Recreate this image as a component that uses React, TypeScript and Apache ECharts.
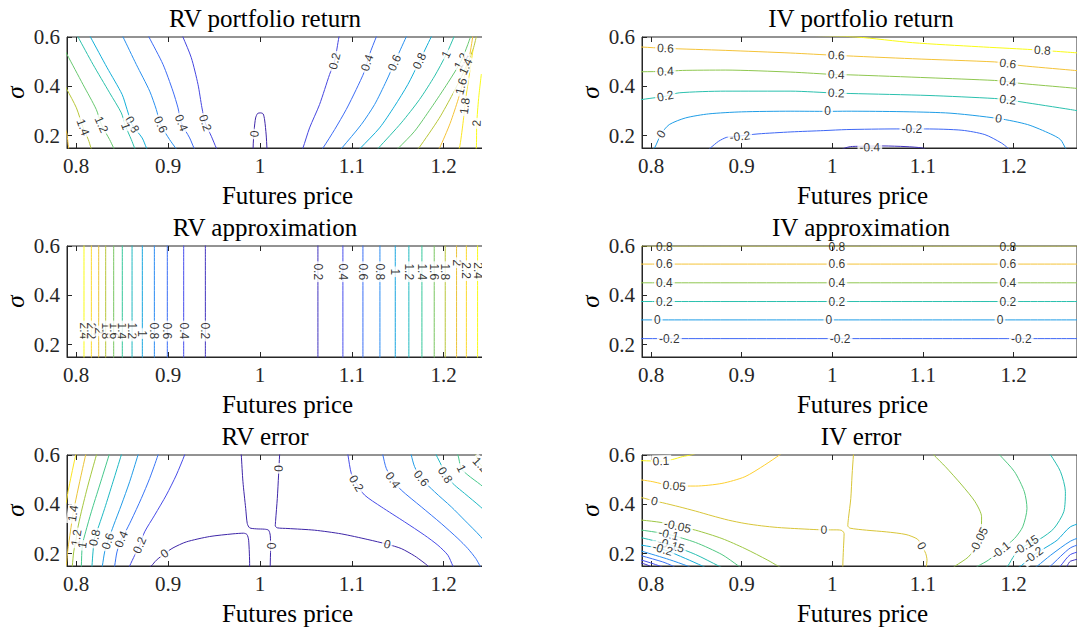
import React, { useEffect, useRef } from "react";
import * as echarts from "echarts";

type Pt = [number, number];
interface Contour { level: number; pts: Pt[]; labels?: Pt[] }

const X_MIN = 0.79;
const X_MAX = 1.27;
const Y_MIN = 0.15;
const Y_MAX = 0.6;
const X_TICKS = [0.8, 0.9, 1, 1.1, 1.2];
const Y_TICKS = [0.2, 0.4, 0.6];
const TITLES = [
  "RV portfolio return",
  "IV portfolio return",
  "RV approximation",
  "IV approximation",
  "RV error",
  "IV error",
];
const X_LABEL = "Futures price";
const Y_LABEL = "σ";

// ---------- RV portfolio return ----------
const RV_RETURN: Contour[] = [
  { level: 0, pts: [[0.9926, 0.14], [0.9926, 0.15], [0.9937, 0.2232], [0.9953, 0.272], [0.9975, 0.29], [1.0008, 0.2923], [1.0035, 0.2882], [1.0051, 0.2638], [1.0068, 0.2028], [1.0076, 0.15], [1.0077, 0.14]], labels: [[0.994, 0.207]] },
  { level: 0.2, pts: [[0.915, 0.61], [0.9162, 0.6], [0.9253, 0.516], [0.9326, 0.4076], [0.9369, 0.3127], [0.9405, 0.2518], [0.9471, 0.1976], [0.9525, 0.15], [0.954, 0.14]], labels: [[0.9405, 0.2518]] },
  { level: 0.2, pts: [[1.045, 0.14], [1.0468, 0.15], [1.054, 0.2314], [1.0649, 0.3263], [1.0758, 0.4482], [1.0813, 0.5024], [1.086, 0.6], [1.087, 0.61]], labels: [[1.0813, 0.5024]] },
  { level: 0.4, pts: [[0.878, 0.61], [0.8792, 0.6], [0.8945, 0.4889], [0.9053, 0.3805], [0.9108, 0.3127], [0.9144, 0.2518], [0.9235, 0.1908], [0.9282, 0.15], [0.93, 0.14]], labels: [[0.9144, 0.2518]] },
  { level: 0.4, pts: [[1.066, 0.14], [1.0686, 0.15], [1.0813, 0.2247], [1.0939, 0.306], [1.1048, 0.3873], [1.1139, 0.4618], [1.1193, 0.5295], [1.1266, 0.6], [1.128, 0.61]], labels: [[1.1166, 0.4957]] },
  { level: 0.6, pts: [[0.8495, 0.61], [0.851, 0.6], [0.8654, 0.4889], [0.88, 0.3805], [0.8872, 0.306], [0.8919, 0.245], [0.9017, 0.184], [0.9082, 0.15], [0.91, 0.14]], labels: [[0.8919, 0.245]] },
  { level: 0.6, pts: [[1.087, 0.14], [1.0892, 0.15], [1.1103, 0.245], [1.1248, 0.3263], [1.1375, 0.4211], [1.1465, 0.4956], [1.1592, 0.6], [1.161, 0.61]], labels: [[1.1465, 0.4956]] },
  { level: 0.8, pts: [[0.814, 0.61], [0.8155, 0.6], [0.8337, 0.4753], [0.85, 0.367], [0.8554, 0.306], [0.8609, 0.245], [0.8718, 0.1908], [0.8765, 0.15], [0.878, 0.14]], labels: [[0.8609, 0.245]] },
  { level: 0.8, pts: [[1.107, 0.14], [1.1095, 0.15], [1.1302, 0.2314], [1.1465, 0.3195], [1.161, 0.4076], [1.1737, 0.5024], [1.1864, 0.6], [1.188, 0.61]], labels: [[1.1737, 0.5024]] },
  { level: 1, pts: [[0.8005, 0.61], [0.802, 0.6], [0.8183, 0.4889], [0.8364, 0.3737], [0.8491, 0.2924], [0.8538, 0.2382], [0.86, 0.184], [0.8636, 0.15], [0.865, 0.14]], labels: [[0.8538, 0.2382]] },
  { level: 1, pts: [[1.127, 0.14], [1.1291, 0.15], [1.1538, 0.2518], [1.1737, 0.3466], [1.1901, 0.4415], [1.2028, 0.5295], [1.2111, 0.6], [1.212, 0.61]], labels: [[1.2028, 0.5295]] },
  { level: 1.2, pts: [[0.78, 0.6], [0.79, 0.5295], [0.8074, 0.4076], [0.8219, 0.306], [0.8274, 0.245], [0.8364, 0.184], [0.8408, 0.15], [0.842, 0.14]], labels: [[0.8274, 0.245]] },
  { level: 1.2, pts: [[1.148, 0.14], [1.1509, 0.15], [1.1683, 0.2179], [1.1864, 0.3127], [1.2046, 0.4144], [1.219, 0.5024], [1.2263, 0.5702], [1.23, 0.61]], labels: [[1.219, 0.5024]] },
  { level: 1.4, pts: [[0.783, 0.44], [0.79, 0.387], [0.8002, 0.313], [0.8074, 0.2342], [0.8132, 0.184], [0.8161, 0.15], [0.817, 0.14]], labels: [[0.8074, 0.2342]] },
  { level: 1.4, pts: [[1.17, 0.14], [1.173, 0.15], [1.195, 0.27], [1.21, 0.37], [1.222, 0.46], [1.232, 0.55], [1.236, 0.61]], labels: [[1.224, 0.48]] },
  { level: 1.6, pts: [[0.787, 0.24], [0.79, 0.207], [0.7908, 0.18], [0.7918, 0.15], [0.792, 0.14]] },
  { level: 1.6, pts: [[1.193, 0.14], [1.1955, 0.15], [1.207, 0.25], [1.216, 0.35], [1.222, 0.43], [1.228, 0.52], [1.232, 0.61]], labels: [[1.219, 0.4]] },
  { level: 1.8, pts: [[1.215, 0.14], [1.2172, 0.15], [1.221, 0.25], [1.224, 0.35], [1.228, 0.45], [1.232, 0.55]], labels: [[1.223, 0.32]] },
  { level: 2, pts: [[1.234, 0.14], [1.2355, 0.15], [1.236, 0.25], [1.238, 0.35], [1.241, 0.45]], labels: [[1.236, 0.25]] },
];

// ---------- IV portfolio return ----------
const IV_RETURN: Contour[] = [
  { level: 0.8, pts: [[0.98, 0.606], [1.0269, 0.6], [1.0885, 0.577], [1.1611, 0.5607], [1.2155, 0.5499], [1.2318, 0.5458], [1.2627, 0.5377], [1.28, 0.533]], labels: [[1.2318, 0.5458]] },
  { level: 0.6, pts: [[0.78, 0.561], [0.79, 0.5593], [0.8158, 0.5539], [0.8818, 0.5458], [0.9543, 0.535], [1.0044, 0.5255], [1.0885, 0.5119], [1.1792, 0.499], [1.1937, 0.492], [1.2082, 0.484], [1.2627, 0.466], [1.28, 0.46]], labels: [[0.8158, 0.5539], [1.0044, 0.5255], [1.1937, 0.492]] },
  { level: 0.4, pts: [[0.78, 0.458], [0.79, 0.4591], [0.8158, 0.4605], [0.8346, 0.4645], [0.8818, 0.4659], [0.9543, 0.4577], [1.0044, 0.4475], [1.0196, 0.4465], [1.1067, 0.4347], [1.1792, 0.4239], [1.1937, 0.419], [1.2082, 0.4117], [1.2627, 0.394], [1.28, 0.388]], labels: [[0.8158, 0.4605], [1.0044, 0.4475], [1.1937, 0.419]] },
  { level: 0.2, pts: [[0.78, 0.34], [0.79, 0.3466], [0.8056, 0.3545], [0.8158, 0.36], [0.831, 0.3737], [0.8818, 0.3805], [0.9543, 0.3805], [1.0044, 0.3724], [1.0196, 0.371], [1.1067, 0.3629], [1.1792, 0.3507], [1.1937, 0.345], [1.2082, 0.3371], [1.2627, 0.306], [1.28, 0.295]], labels: [[0.8158, 0.36], [1.0044, 0.3724], [1.1937, 0.345]] },
  { level: 0, pts: [[0.7995, 0.14], [0.8038, 0.15], [0.8111, 0.207], [0.8201, 0.245], [0.8382, 0.2721], [0.8636, 0.2883], [0.8999, 0.2965], [0.9543, 0.2992], [0.9949, 0.2985], [1.016, 0.2992], [1.1248, 0.2924], [1.1836, 0.2694], [1.2155, 0.245], [1.2409, 0.207], [1.2518, 0.184], [1.2572, 0.15], [1.259, 0.14]], labels: [[0.8111, 0.207], [0.9949, 0.2985], [1.1836, 0.2694]] },
  { level: -0.2, pts: [[0.862, 0.14], [0.8654, 0.15], [0.8745, 0.1772], [0.8836, 0.1935], [0.8981, 0.199], [0.918, 0.2071], [0.9543, 0.2152], [0.9906, 0.2206], [1.016, 0.2247], [1.0704, 0.2273], [1.0878, 0.2273], [1.1031, 0.2273], [1.143, 0.222], [1.1683, 0.2043], [1.1865, 0.1705], [1.1937, 0.15], [1.196, 0.14]], labels: [[0.8981, 0.197], [1.0878, 0.2255]] },
  { level: -0.4, pts: [[1.008, 0.14], [1.0141, 0.15], [1.02, 0.1556], [1.0305, 0.157], [1.0559, 0.1583], [1.0813, 0.1556], [1.0994, 0.15], [1.105, 0.14]], labels: [[1.0414, 0.153]] },
];

// ---------- RV approximation ----------
const RV_APPROX: Contour[] = [
  { level: 2.4, pts: [[0.8085, 0.14], [0.8085, 0.61]], labels: [[0.8085, 0.2557]] },
  { level: 2.2, pts: [[0.8165, 0.14], [0.8165, 0.61]], labels: [[0.8165, 0.2557]] },
  { level: 2, pts: [[0.8245, 0.14], [0.8245, 0.61]], labels: [[0.8245, 0.2557]] },
  { level: 1.8, pts: [[0.8321, 0.14], [0.8321, 0.61]], labels: [[0.8321, 0.2557]] },
  { level: 1.6, pts: [[0.8408, 0.14], [0.8408, 0.61]], labels: [[0.8408, 0.2557]] },
  { level: 1.4, pts: [[0.8502, 0.14], [0.8502, 0.61]], labels: [[0.8502, 0.2557]] },
  { level: 1.2, pts: [[0.8608, 0.14], [0.8608, 0.61]], labels: [[0.8608, 0.2557]] },
  { level: 1, pts: [[0.872, 0.14], [0.872, 0.61]], labels: [[0.872, 0.245]] },
  { level: 0.8, pts: [[0.8851, 0.14], [0.8851, 0.61]], labels: [[0.8851, 0.2557]] },
  { level: 0.6, pts: [[0.8992, 0.14], [0.8992, 0.61]], labels: [[0.8992, 0.2557]] },
  { level: 0.4, pts: [[0.917, 0.14], [0.917, 0.61]], labels: [[0.917, 0.2557]] },
  { level: 0.2, pts: [[0.9406, 0.14], [0.9406, 0.61]], labels: [[0.9406, 0.2557]] },
  { level: 0.2, pts: [[1.0631, 0.14], [1.0631, 0.61]], labels: [[1.0631, 0.4955]] },
  { level: 0.4, pts: [[1.0903, 0.14], [1.0903, 0.61]], labels: [[1.0903, 0.4955]] },
  { level: 0.6, pts: [[1.1121, 0.14], [1.1121, 0.61]], labels: [[1.1121, 0.4955]] },
  { level: 0.8, pts: [[1.1306, 0.14], [1.1306, 0.61]], labels: [[1.1306, 0.4955]] },
  { level: 1, pts: [[1.1473, 0.14], [1.1473, 0.61]], labels: [[1.1473, 0.4955]] },
  { level: 1.2, pts: [[1.1621, 0.14], [1.1621, 0.61]], labels: [[1.1621, 0.4955]] },
  { level: 1.4, pts: [[1.1763, 0.14], [1.1763, 0.61]], labels: [[1.1763, 0.4955]] },
  { level: 1.6, pts: [[1.1897, 0.14], [1.1897, 0.61]], labels: [[1.1897, 0.4955]] },
  { level: 1.8, pts: [[1.2017, 0.14], [1.2017, 0.61]], labels: [[1.2017, 0.4955]] },
  { level: 2, pts: [[1.214, 0.14], [1.214, 0.61]], labels: [[1.214, 0.532]] },
  { level: 2.2, pts: [[1.2247, 0.14], [1.2247, 0.61]], labels: [[1.2247, 0.5]] },
  { level: 2.4, pts: [[1.2369, 0.14], [1.2369, 0.61]], labels: [[1.2369, 0.5]] },
];

// ---------- IV approximation ----------
const IV_APPROX: Contour[] = [
  { level: 0.8, pts: [[0.78, 0.5995], [1.28, 0.5995]], labels: [[0.8147, 0.5965], [1.0051, 0.5965], [1.1937, 0.5965]] },
  { level: 0.6, pts: [[0.78, 0.5267], [1.28, 0.5267]], labels: [[0.8147, 0.5267], [1.0051, 0.5267], [1.1937, 0.5267]] },
  { level: 0.4, pts: [[0.78, 0.4508], [1.28, 0.4508]], labels: [[0.8147, 0.4508], [1.0051, 0.4508], [1.1937, 0.4508]] },
  { level: 0.2, pts: [[0.78, 0.3749], [1.28, 0.3749]], labels: [[0.8147, 0.3749], [1.0051, 0.3749], [1.1937, 0.3749]] },
  { level: 0, pts: [[0.78, 0.3004], [1.28, 0.3004]], labels: [[0.8068, 0.3004], [0.9961, 0.3004], [1.185, 0.3004]] },
  { level: -0.2, pts: [[0.78, 0.2245], [1.28, 0.2245]], labels: [[0.8201, 0.2245], [1.0087, 0.2245], [1.2085, 0.2245]] },
];

// ---------- RV error ----------
const RV_ERROR: Contour[] = [
  { level: 1.6, pts: [[0.8005, 0.61], [0.7995, 0.6], [0.7948, 0.5188], [0.7911, 0.451], [0.79, 0.4239], [0.788, 0.39]] },
  { level: 1.4, pts: [[0.8112, 0.61], [0.8103, 0.6], [0.8038, 0.4917], [0.7984, 0.3969], [0.7966, 0.3631], [0.7937, 0.2884], [0.7911, 0.2207], [0.79, 0.1801], [0.789, 0.15]], labels: [[0.7966, 0.3631]] },
  { level: 1.2, pts: [[0.8228, 0.61], [0.822, 0.6], [0.8129, 0.4782], [0.8056, 0.3698], [0.8009, 0.2884], [0.8002, 0.2641], [0.7973, 0.2072], [0.7958, 0.1503], [0.7955, 0.14]], labels: [[0.8002, 0.2641]] },
  { level: 1, pts: [[0.8365, 0.61], [0.8358, 0.6], [0.8256, 0.4782], [0.8165, 0.3698], [0.8103, 0.2884], [0.8067, 0.2343], [0.8056, 0.1503], [0.8055, 0.14]], labels: [[0.8067, 0.2343]] },
  { level: 0.8, pts: [[0.8499, 0.61], [0.8491, 0.6], [0.8401, 0.4917], [0.831, 0.3834], [0.8249, 0.3156], [0.8201, 0.2641], [0.8183, 0.2072], [0.8172, 0.1503], [0.817, 0.14]], labels: [[0.8201, 0.2641]] },
  { level: 0.6, pts: [[0.8682, 0.61], [0.8673, 0.6], [0.8582, 0.4917], [0.8491, 0.3969], [0.8408, 0.3156], [0.8346, 0.2506], [0.831, 0.2072], [0.8285, 0.1503], [0.828, 0.14]], labels: [[0.8346, 0.2506]] },
  { level: 0.4, pts: [[0.8895, 0.61], [0.8891, 0.6], [0.88, 0.5053], [0.8709, 0.424], [0.86, 0.3359], [0.8527, 0.2817], [0.8491, 0.2587], [0.8444, 0.2072], [0.8419, 0.1503], [0.8415, 0.14]], labels: [[0.8491, 0.2587]] },
  { level: 0.2, pts: [[0.9185, 0.61], [0.918, 0.6], [0.909, 0.5188], [0.8981, 0.4375], [0.8854, 0.3562], [0.8745, 0.2884], [0.8691, 0.2343], [0.8637, 0.1936], [0.8582, 0.1503], [0.857, 0.14]], labels: [[0.8691, 0.2343]] },
  { level: 0, pts: [[0.9795, 0.61], [0.9797, 0.6], [0.9815, 0.4917], [0.9845, 0.3834], [0.9862, 0.3223], [0.9888, 0.3047], [0.996, 0.3006], [1.0051, 0.2992], [1.0094, 0.2951], [1.0112, 0.2749], [1.0116, 0.2207], [1.0112, 0.1503], [1.0112, 0.14]], labels: [[1.0116, 0.2316]] },
  { level: 0, pts: [[0.878, 0.14], [0.8818, 0.1503], [0.8872, 0.1733], [0.8963, 0.2004], [0.9054, 0.2234], [0.9199, 0.2478], [0.9453, 0.2695], [0.9706, 0.2803], [0.9822, 0.283], [0.9859, 0.2776], [0.9877, 0.2546], [0.9888, 0.15], [0.9888, 0.14]], labels: [[0.8963, 0.2004]] },
  { level: 0, pts: [[1.0216, 0.61], [1.0214, 0.6], [1.0203, 0.5187], [1.0189, 0.4238], [1.0171, 0.3358], [1.0167, 0.3127], [1.0189, 0.3047], [1.0305, 0.302], [1.0595, 0.2952], [1.0885, 0.2803], [1.1175, 0.2573], [1.1386, 0.2383], [1.1538, 0.2207], [1.1683, 0.1909], [1.1774, 0.1665], [1.1828, 0.1503], [1.1845, 0.14]], labels: [[1.0203, 0.5459], [1.1386, 0.2383]] },
  { level: 0.2, pts: [[1.0955, 0.61], [1.0958, 0.6], [1.0994, 0.5256], [1.1048, 0.4849], [1.1139, 0.4375], [1.132, 0.39], [1.1574, 0.329], [1.1792, 0.2749], [1.1937, 0.2343], [1.2046, 0.1936], [1.21, 0.1503], [1.212, 0.14]], labels: [[1.1048, 0.4849]] },
  { level: 0.4, pts: [[1.1335, 0.61], [1.1338, 0.6], [1.1375, 0.5459], [1.1447, 0.4985], [1.1538, 0.4578], [1.1756, 0.39], [1.1973, 0.3223], [1.2155, 0.2614], [1.2263, 0.2207], [1.235, 0.18], [1.241, 0.14]], labels: [[1.1447, 0.4985]] },
  { level: 0.6, pts: [[1.1645, 0.61], [1.1647, 0.6], [1.1683, 0.5527], [1.1756, 0.5053], [1.19, 0.4511], [1.2082, 0.39], [1.2227, 0.3359], [1.24, 0.27], [1.255, 0.2], [1.262, 0.15]], labels: [[1.1756, 0.5053]] },
  { level: 0.8, pts: [[1.1915, 0.61], [1.1919, 0.6], [1.1973, 0.5595], [1.2017, 0.5188], [1.2118, 0.4782], [1.2227, 0.4443], [1.24, 0.39], [1.26, 0.32], [1.275, 0.26]], labels: [[1.2017, 0.5188]] },
  { level: 1, pts: [[1.213, 0.61], [1.2155, 0.6], [1.2191, 0.5459], [1.2263, 0.5188], [1.24, 0.48], [1.26, 0.42], [1.28, 0.36]], labels: [[1.2191, 0.5459]] },
  { level: 1.2, pts: [[1.232, 0.61], [1.235, 0.6], [1.24, 0.56], [1.255, 0.52], [1.275, 0.47]], labels: [[1.24, 0.56]] },
];

// ---------- IV error ----------
const IV_ERROR: Contour[] = [
  { level: 0.1, pts: [[0.78, 0.578], [0.79, 0.577], [0.811, 0.575], [0.8238, 0.582], [0.8346, 0.5934], [0.8437, 0.6], [0.85, 0.607]], labels: [[0.811, 0.575]] },
  { level: 0.05, pts: [[0.78, 0.5], [0.79, 0.4985], [0.802, 0.4917], [0.8256, 0.4741], [0.8492, 0.4741], [0.8782, 0.4849], [0.9036, 0.512], [0.9254, 0.5595], [0.9417, 0.6], [0.945, 0.61]], labels: [[0.8256, 0.4741]] },
  { level: 0, pts: [[0.78, 0.43], [0.79, 0.4267], [0.8038, 0.4131], [0.8129, 0.4063], [0.831, 0.3901], [0.8492, 0.3725], [0.8673, 0.3535], [0.8854, 0.3359], [0.9036, 0.3224], [0.9217, 0.3129], [0.9398, 0.3061], [0.958, 0.302], [0.9797, 0.2979], [0.9906, 0.2965], [1.005, 0.2965], [1.0105, 0.2938], [1.013, 0.2816], [1.0123, 0.2207], [1.0116, 0.1503], [1.0116, 0.14]], labels: [[0.8038, 0.4131], [0.9906, 0.2965]] },
  { level: 0, pts: [[1.0235, 0.61], [1.0233, 0.6], [1.0218, 0.5188], [1.0204, 0.424], [1.0178, 0.3427], [1.0171, 0.3129], [1.0196, 0.3034], [1.0378, 0.2952], [1.0595, 0.2884], [1.0813, 0.2776], [1.094, 0.2587], [1.0987, 0.2316], [1.1031, 0.2004], [1.1045, 0.1733], [1.1038, 0.1503], [1.1035, 0.14]], labels: [[1.0987, 0.2316]] },
  { level: -0.05, pts: [[0.78, 0.338], [0.79, 0.3359], [0.811, 0.3265], [0.8292, 0.311], [0.8492, 0.2952], [0.8782, 0.2614], [0.9036, 0.2207], [0.9289, 0.1733], [0.9398, 0.1503], [0.945, 0.14]], labels: [[0.8292, 0.311]] },
  { level: -0.05, pts: [[1.111, 0.61], [1.1121, 0.6], [1.1248, 0.5527], [1.1429, 0.4782], [1.1575, 0.4105], [1.1647, 0.3495], [1.164, 0.2886], [1.1593, 0.2344], [1.1502, 0.1869], [1.1357, 0.1503], [1.132, 0.14]], labels: [[1.1615, 0.2546]] },
  { level: -0.1, pts: [[0.78, 0.298], [0.79, 0.2953], [0.8194, 0.2777], [0.8492, 0.2452], [0.8782, 0.1964], [0.8964, 0.1503], [0.9, 0.14]], labels: [[0.8194, 0.2777]] },
  { level: -0.1, pts: [[1.182, 0.61], [1.1847, 0.6], [1.201, 0.5324], [1.2119, 0.4511], [1.2148, 0.3834], [1.2101, 0.3088], [1.201, 0.2614], [1.1858, 0.2139], [1.172, 0.1733], [1.1611, 0.1503], [1.157, 0.14]], labels: [[1.1858, 0.2139]] },
  { level: -0.15, pts: [[0.78, 0.27], [0.79, 0.2641], [0.822, 0.2343], [0.8492, 0.1964], [0.8745, 0.1503], [0.88, 0.14]], labels: [[0.822, 0.2343]] },
  { level: -0.15, pts: [[1.238, 0.61], [1.2409, 0.6], [1.2518, 0.5324], [1.2572, 0.4511], [1.2554, 0.3698], [1.2445, 0.3021], [1.23, 0.2614], [1.2137, 0.2343], [1.201, 0.1936], [1.1937, 0.1503], [1.19, 0.14]], labels: [[1.2137, 0.2343]] },
  { level: -0.2, pts: [[0.78, 0.24], [0.79, 0.2343], [0.8129, 0.218], [0.8382, 0.1801], [0.8564, 0.1503], [0.862, 0.14]], labels: [[0.8129, 0.218]] },
  { level: -0.2, pts: [[1.28, 0.33], [1.2627, 0.3088], [1.2481, 0.2546], [1.2336, 0.2207], [1.222, 0.1936], [1.2082, 0.1503], [1.203, 0.14]], labels: [[1.222, 0.1936]] },
  { level: -0.25, pts: [[0.78, 0.222], [0.79, 0.2099], [0.8201, 0.176], [0.84, 0.1503], [0.846, 0.14]] },
  { level: -0.25, pts: [[1.28, 0.275], [1.2627, 0.2505], [1.2409, 0.1936], [1.2264, 0.1503], [1.222, 0.14]] },
  { level: -0.3, pts: [[0.78, 0.2], [0.79, 0.1909], [0.8129, 0.1665], [0.8238, 0.1503], [0.828, 0.14]] },
  { level: -0.3, pts: [[1.28, 0.245], [1.2627, 0.2234], [1.2409, 0.1503], [1.237, 0.14]] },
  { level: -0.35, pts: [[0.78, 0.18], [0.79, 0.1733], [0.8093, 0.1503], [0.815, 0.14]] },
  { level: -0.35, pts: [[1.28, 0.215], [1.2627, 0.1963], [1.2518, 0.1503], [1.249, 0.14]] },
  { level: -0.4, pts: [[0.78, 0.17], [0.79, 0.1611], [0.7984, 0.1503], [0.802, 0.14]] },
  { level: -0.4, pts: [[1.28, 0.185], [1.2627, 0.1692], [1.259, 0.1503], [1.257, 0.14]] },
];

const PANELS = [RV_RETURN, IV_RETURN, RV_APPROX, IV_APPROX, RV_ERROR, IV_ERROR];
// colour-map limits of each panel (MATLAB CLim)
const COLOR_LIMITS: [number, number][] = [
  [0, 1.9],
  [-0.45, 0.8],
  [0.1, 2.4],
  [-0.45, 0.8],
  [0, 1.7],
  [-0.42, 0.11],
];

const PARULA = [
  [62, 38, 168],
  [72, 82, 244],
  [46, 135, 247],
  [18, 177, 214],
  [55, 200, 151],
  [171, 199, 57],
  [254, 195, 56],
  [249, 251, 21],
];

function parula(t: number): string {
  const c = Math.max(0, Math.min(1, t)) * (PARULA.length - 1);
  const i = Math.min(Math.floor(c), PARULA.length - 2);
  const f = c - i;
  const a = PARULA[i];
  const b = PARULA[i + 1];
  const r = a.map((v, k) => Math.round(v + (b[k] - v) * f));
  return `rgb(${r[0]},${r[1]},${r[2]})`;
}

const GRID_LEFT = [67, 642];
const GRID_TOP = [37, 246, 455];
const GRID_W = 441;
const GRID_H = 111;
const TITLE_CX = [265, 861];
const SX = GRID_W / (X_MAX - X_MIN);
const SY = GRID_H / (Y_MAX - Y_MIN);
const CLIP_X = 482;

const AXIS_COLOR = "#262626";
const SERIF = '"Liberation Serif", "Times New Roman", serif';

function labelAngle(pts: Pt[], l: Pt): number {
  let best = 0;
  let bd = Infinity;
  pts.forEach((p, i) => {
    const d = Math.hypot((p[0] - l[0]) * SX, (p[1] - l[1]) * SY);
    if (d < bd) {
      bd = d;
      best = i;
    }
  });
  const a = pts[Math.max(0, best - 1)];
  const b = pts[Math.min(pts.length - 1, best + 1)];
  let deg = (Math.atan2((b[1] - a[1]) * SY, (b[0] - a[0]) * SX) * 180) / Math.PI;
  if (deg >= 89.5) deg -= 180;
  if (deg < -90) deg += 180;
  return deg;
}

function buildOption() {
  const grid: any[] = [];
  const xAxis: any[] = [];
  const yAxis: any[] = [];
  const series: any[] = [];
  const graphic: any[] = [];

  PANELS.forEach((contours, p) => {
    const col = p % 2;
    const row = Math.floor(p / 2);
    const left = GRID_LEFT[col];
    const top = GRID_TOP[row];
    grid.push({
      left,
      top,
      width: GRID_W,
      height: GRID_H,
      show: true,
      borderColor: AXIS_COLOR,
      borderWidth: 1,
      backgroundColor: "rgba(0,0,0,0)",
      containLabel: false,
    });
    xAxis.push({
      gridIndex: p,
      type: "value",
      position: "bottom",
      min: X_MIN,
      max: X_MAX,
      axisLine: { show: true, onZero: false, lineStyle: { color: AXIS_COLOR, width: 1 } },
      axisTick: { show: true, inside: true, length: 5, customValues: X_TICKS, lineStyle: { color: AXIS_COLOR } },
      axisLabel: {
        show: true,
        customValues: X_TICKS,
        formatter: (v: number) => String(v),
        margin: 7,
        color: AXIS_COLOR,
        fontFamily: SERIF,
        fontSize: 21,
      },
      splitLine: { show: false },
    });
    xAxis.push({
      gridIndex: p,
      type: "value",
      position: "top",
      min: X_MIN,
      max: X_MAX,
      axisLine: { show: false, onZero: false },
      axisTick: { show: true, inside: true, length: 5, customValues: X_TICKS, lineStyle: { color: AXIS_COLOR } },
      axisLabel: { show: false },
      splitLine: { show: false },
    });
    yAxis.push({
      gridIndex: p,
      type: "value",
      min: Y_MIN,
      max: Y_MAX,
      axisLine: { show: true, onZero: false, lineStyle: { color: AXIS_COLOR, width: 1 } },
      axisTick: { show: true, inside: true, length: 5, customValues: Y_TICKS, lineStyle: { color: AXIS_COLOR } },
      axisLabel: {
        show: true,
        customValues: Y_TICKS,
        formatter: (v: number) => String(v),
        margin: 7,
        color: AXIS_COLOR,
        fontFamily: SERIF,
        fontSize: 21,
      },
      splitLine: { show: false },
    });

    const [lo, hi] = COLOR_LIMITS[p];
    const labelData: any[] = [];
    contours.forEach((c) => {
      const onBorder = c.pts.every((q) => q[1] >= Y_MAX - 0.002);
      series.push({
        type: "line",
        xAxisIndex: 2 * p,
        yAxisIndex: p,
        data: c.pts,
        showSymbol: false,
        symbol: "none",
        smooth: 0.25,
        clip: true,
        silent: true,
        z: 2,
        lineStyle: { color: parula((c.level - lo) / (hi - lo)), width: 1, opacity: onBorder ? 0.45 : 1 },
      });
      (c.labels || []).forEach((l) => {
        const atTop = l[1] > Y_MAX - 0.01;
        labelData.push({
          value: l,
          label: {
            show: true,
            formatter: String(c.level),
            rotate: labelAngle(c.pts, l),
            backgroundColor: atTop ? "transparent" : "#ffffff",
          },
        });
      });
    });
    series.push({
      type: "scatter",
      xAxisIndex: 2 * p,
      yAxisIndex: p,
      data: labelData,
      symbolSize: 0.01,
      itemStyle: { color: "rgba(0,0,0,0)" },
      silent: true,
      z: 6,
      label: {
        show: true,
        position: "inside",
        fontFamily: '"Liberation Sans", Arial, sans-serif',
        fontSize: 12,
        color: "#000000",
        padding: [0, 2],
      },
    });

    const cx = left + GRID_W / 2;
    graphic.push({
      type: "text",
      x: TITLE_CX[col],
      y: top - 19,
      z: 110,
      style: {
        text: TITLES[p],
        font: `25px ${SERIF}`,
        fill: "#000000",
        textAlign: "center",
        textVerticalAlign: "middle",
      },
    });
    graphic.push({
      type: "text",
      x: cx,
      y: top + GRID_H + 47,
      z: 110,
      style: {
        text: X_LABEL,
        font: `25px ${SERIF}`,
        fill: "#000000",
        textAlign: "center",
        textVerticalAlign: "middle",
      },
    });
    graphic.push({
      type: "text",
      x: left - 52,
      y: top + GRID_H / 2,
      rotation: Math.PI / 2,
      z: 110,
      style: {
        text: Y_LABEL,
        font: `italic 25px ${SERIF}`,
        fill: "#000000",
        textAlign: "center",
        textVerticalAlign: "middle",
      },
    });
    if (col === 0) {
      graphic.push({
        type: "rect",
        z: 100,
        shape: { x: CLIP_X, y: top - 4, width: 575 - CLIP_X, height: GRID_H + 8 },
        style: { fill: "#ffffff" },
      });
    }
  });

  return {
    animation: false,
    backgroundColor: "#ffffff",
    grid,
    xAxis,
    yAxis,
    series,
    graphic: { elements: graphic },
  };
}

export default function App() {
  const ref = useRef<HTMLDivElement>(null);
  useEffect(() => {
    if (!ref.current) return;
    const chart = echarts.init(ref.current, undefined, { renderer: "svg" });
    chart.setOption(buildOption() as any);
    return () => chart.dispose();
  }, []);
  return (
    <div style={{ position: "absolute", left: 0, top: 0, width: 1077, height: 630, background: "#fff" }}>
      <div ref={ref} style={{ width: 1077, height: 630 }} />
    </div>
  );
}
